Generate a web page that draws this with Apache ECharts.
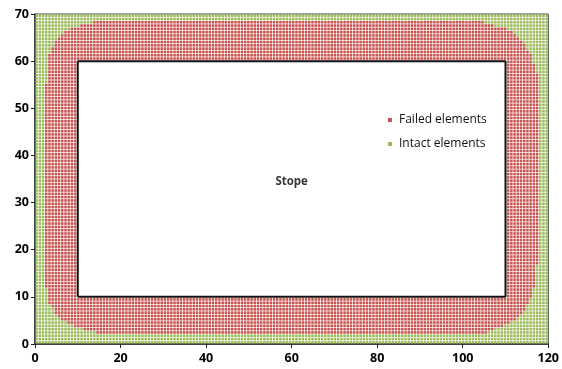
<!DOCTYPE html>
<html>
<head>
<meta charset="utf-8">
<script src="https://cdn.jsdelivr.net/npm/echarts@6/dist/echarts.min.js"></script>
<style>
  html, body { margin: 0; padding: 0; background: #fff; }
  #chart { width: 562px; height: 369px; }
</style>
</head>
<body>
<div id="chart"></div>
<script>
// Model extent and element mesh
const modelWidth = 120;
const modelHeight = 70;
const meshStepX = 0.75;
const meshStepY = 0.7;

// Stope opening (x0, y0, x1, y1)
const stopeBox = [10, 10, 110, 60];

// Outer limit of the failed zone, given per elevation
const failY     = [2.3, 3.0, 3.5, 4.5, 5.5, 7.0, 9.0, 13, 20, 35, 50, 55, 59, 62, 64, 66, 67, 68, 68.4];
const failLeft  = [15, 11.5, 10, 7.5, 6.0, 4.5, 3.2, 2.3, 2.0, 2.1, 2.3, 2.6, 3.0, 3.5, 4.5, 6.5, 8.5, 12, 15];
const failRight = [105, 107, 109, 111, 113, 114.5, 115.6, 117, 117.7, 118, 118, 117.8, 117, 115.5, 114, 112, 109.5, 106, 104];

const xTicks = [0, 20, 40, 60, 80, 100, 120];
const yTicks = [0, 10, 20, 30, 40, 50, 60, 70];
const seriesNames = ['Failed elements', 'Intact elements'];
const seriesColors = ['#C8504D', '#9BBB59'];
const stopeLabel = 'Stope';

function lookup(ys, vs, y) {
  if (y <= ys[0]) return vs[0];
  for (let i = 1; i < ys.length; i++) {
    if (y <= ys[i]) {
      const t = (y - ys[i - 1]) / (ys[i] - ys[i - 1]);
      return vs[i - 1] + t * (vs[i] - vs[i - 1]);
    }
  }
  return vs[vs.length - 1];
}

// Sort every mesh element outside the stope into failed / intact
const failed = [];
const intact = [];
const nx = Math.round(modelWidth / meshStepX);
const ny = Math.round(modelHeight / meshStepY);
for (let j = 0; j < ny; j++) {
  const y = (j + 0.5) * meshStepY;
  for (let i = 0; i < nx; i++) {
    const x = (i + 0.5) * meshStepX;
    if (x > stopeBox[0] && x < stopeBox[2] && y > stopeBox[1] && y < stopeBox[3]) continue;
    const inBand = y >= failY[0] && y <= failY[failY.length - 1];
    const isFailed = inBand && x >= lookup(failY, failLeft, y) && x <= lookup(failY, failRight, y);
    (isFailed ? failed : intact).push([x, y]);
  }
}

const stopeOutline = [
  [stopeBox[0], stopeBox[1]], [stopeBox[2], stopeBox[1]],
  [stopeBox[2], stopeBox[3]], [stopeBox[0], stopeBox[3]],
  [stopeBox[0], stopeBox[1]]
];

const chart = echarts.init(document.getElementById('chart'), null, { renderer: 'canvas' });
const axisFont = { fontFamily: 'Open Sans', fontWeight: 'bold', fontSize: 12.5, color: '#000' };

chart.setOption({
  animation: false,
  backgroundColor: '#fff',
  grid: {
    left: 35, right: 10, top: 14, bottom: 25,
    show: true, borderColor: '#444', borderWidth: 1, backgroundColor: '#fff'
  },
  legend: {
    data: seriesNames.map((n, k) => ({ name: n, icon: 'rect', itemStyle: { color: seriesColors[k] } })),
    orient: 'vertical',
    left: 383, top: 109,
    itemWidth: 4, itemHeight: 4, itemGap: 12,
    textStyle: { fontFamily: 'Open Sans', fontSize: 12, color: '#111', padding: [0, 0, 0, 2] }
  },
  xAxis: {
    type: 'value', min: xTicks[0], max: xTicks[xTicks.length - 1], interval: 20,
    axisLine: { show: true, onZero: false, lineStyle: { color: '#222', width: 1.5 } },
    axisTick: { show: true, length: 4, lineStyle: { color: '#222' } },
    axisLabel: Object.assign({ margin: 8 }, axisFont),
    splitLine: { show: false }
  },
  yAxis: {
    type: 'value', min: yTicks[0], max: yTicks[yTicks.length - 1], interval: 10,
    axisLine: { show: true, onZero: false, lineStyle: { color: '#222', width: 1.5 } },
    axisTick: { show: true, length: 4, lineStyle: { color: '#222' } },
    axisLabel: Object.assign({ margin: 6 }, axisFont),
    splitLine: { show: false }
  },
  series: [
    {
      name: seriesNames[0], type: 'scatter', data: failed,
      symbol: 'rect', symbolSize: [2.5, 2.6],
      itemStyle: { color: seriesColors[0], opacity: 1 },
      silent: true, z: 2
    },
    {
      name: seriesNames[1], type: 'scatter', data: intact,
      symbol: 'rect', symbolSize: [2.5, 2.6],
      itemStyle: { color: seriesColors[1], opacity: 1 },
      silent: true, z: 2
    },
    {
      name: 'stope', type: 'line', data: stopeOutline,
      symbol: 'none', lineStyle: { color: '#111', width: 2 },
      silent: true, z: 5
    },
    {
      name: 'stopeText', type: 'scatter',
      data: [[(stopeBox[0] + stopeBox[2]) / 2, 34.5]],
      symbolSize: 0,
      label: {
        show: true, position: 'inside', formatter: stopeLabel,
        fontFamily: 'Open Sans', fontWeight: 'bold', fontSize: 11.5, color: '#000'
      },
      silent: true, z: 6
    }
  ]
});
</script>
</body>
</html>
